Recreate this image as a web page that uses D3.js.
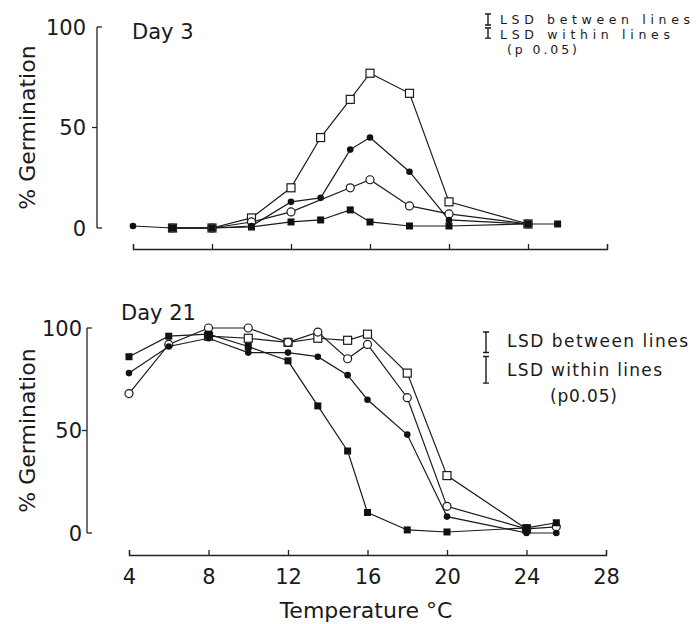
<!DOCTYPE html>
<html>
<head>
<meta charset="utf-8">
<script src="https://cdn.jsdelivr.net/npm/d3@7"></script>
<style>
  body { margin: 0; background: #fff; }
  svg text { font-family: "DejaVu Sans", sans-serif; fill: #1a1a1a; }
</style>
</head>
<body>
<svg width="696" height="624"></svg>
<script>
// temperatures (deg C) where germination was scored
var temps = [4, 6, 8, 10, 12, 13.5, 15, 16, 18, 20, 24, 25.5];
var xTicks = [4, 8, 12, 16, 20, 24, 28];
var yTicks = [0, 50, 100];

// Day 3 % germination, null = no point
var day3OpenSquare   = [null, 0, 0, 5, 20, 45, 64, 77, 67, 13, 2, null];
var day3FilledCircle = [1, 0, 0, 1, 13, 15, 39, 45, 28, 4, 2, null];
var day3OpenCircle   = [null, 0, 0, 3, 8, null, 20, 24, 11, 7, 2, null];
var day3FilledSquare = [null, 0, 0, 0.5, 3, 4, 9, 3, 1, 1, 2, 2];

// Day 21 % germination
var day21OpenSquare   = [null, null, 96, 95, 93, 95, 94, 97, 78, 28, 2, null];
var day21OpenCircle   = [68, 92, 100, 100, 93, 98, 85, 92, 66, 13, 2, 3];
var day21FilledCircle = [78, 91, 95, 88, 88, 86, 77, 65, 48, 8, 0, 0];
var day21FilledSquare = [86, 96, 97, 91, 84, 62, 40, 10, 1.5, 0.5, 2.5, 5];

// LSD bar sizes (% units): between lines, within lines
var lsdDay3 = [5.5, 5];
var lsdDay21 = [10, 13];

const svg = d3.select("svg");

const panels = [
  {
    title: "Day 3", titleX: 132, titleY: 39,
    x: d3.scaleLinear().domain([4, 28]).range([133, 607]),
    y: d3.scaleLinear().domain([0, 100]).range([228, 27]),
    yAxisX: 97, labelPad: 11, xAxisY: 249, tickLabels: false,
    series: [
      { vals: day3OpenSquare, mark: "osq" },
      { vals: day3OpenCircle, mark: "oc" },
      { vals: day3FilledCircle, mark: "fc" },
      { vals: day3FilledSquare, mark: "fsq" }
    ],
    lsd: lsdDay3, legendX: 488, barTop: 14, barGap: 3,
    legend: [
      { t: "LSD between lines", x: 500, y: 24, w: 190 },
      { t: "LSD within lines", x: 500, y: 39, w: 170 },
      { t: "(p 0.05)", x: 507, y: 54, w: 70 }
    ], legendSize: 12.5
  },
  {
    title: "Day 21", titleX: 121, titleY: 320,
    x: d3.scaleLinear().domain([4, 28]).range([129, 606]),
    y: d3.scaleLinear().domain([0, 100]).range([533, 328]),
    yAxisX: 87, labelPad: 5, xAxisY: 555, tickLabels: true,
    series: [
      { vals: day21OpenSquare, mark: "osq" },
      { vals: day21OpenCircle, mark: "oc" },
      { vals: day21FilledCircle, mark: "fc" },
      { vals: day21FilledSquare, mark: "fsq" }
    ],
    lsd: lsdDay21, legendX: 486, barTop: 332, barGap: 4,
    legend: [
      { t: "LSD between lines", x: 507, y: 347, w: 181 },
      { t: "LSD within lines", x: 507, y: 376, w: 155 },
      { t: "(p0.05)", x: 550, y: 402, w: 67 }
    ], legendSize: 17
  }
];

panels.forEach(p => {
  const g = svg.append("g");
  const x = p.x, y = p.y;

  // y axis line + ticks (0 and 100 point right, 50 points left)
  g.append("line")
    .attr("x1", p.yAxisX).attr("x2", p.yAxisX)
    .attr("y1", y(100)).attr("y2", y(0))
    .attr("stroke", "#222").attr("stroke-width", 1.3);
  g.selectAll(".ytick").data(yTicks).join("line")
    .attr("x1", p.yAxisX)
    .attr("x2", d => d === 50 ? p.yAxisX - 5 : p.yAxisX + 5)
    .attr("y1", d => y(d)).attr("y2", d => y(d))
    .attr("stroke", "#222").attr("stroke-width", 1.3);
  g.selectAll(".ylab").data(yTicks).join("text")
    .attr("x", p.yAxisX - p.labelPad)
    .attr("y", d => y(d))
    .attr("dy", "0.36em")
    .attr("text-anchor", "end")
    .attr("font-size", 21)
    .text(d => d);

  // x axis with upward ticks
  const xAxis = d3.axisBottom(x).tickValues(xTicks)
    .tickSizeInner(-5).tickSizeOuter(-5).tickPadding(14)
    .tickFormat(p.tickLabels ? d3.format("d") : "");
  const ax = g.append("g")
    .attr("transform", `translate(0,${p.xAxisY})`)
    .call(xAxis);
  ax.selectAll("path, line").attr("stroke", "#222").attr("stroke-width", 1.3);
  ax.selectAll("text").attr("font-size", 21).attr("fill", "#1a1a1a")
    .attr("font-family", "DejaVu Sans, sans-serif");

  // y label
  g.append("text")
    .attr("transform", `translate(35,${(y(0) + y(100)) / 2}) rotate(-90)`)
    .attr("text-anchor", "middle")
    .attr("font-size", 22)
    .text("% Germination");

  // title
  g.append("text")
    .attr("x", p.titleX).attr("y", p.titleY)
    .attr("font-size", 21)
    .text(p.title);

  // lines
  const line = d3.line().x(d => x(d.t)).y(d => y(d.v));
  p.series.forEach(s => {
    const pts = temps.map((t, i) => ({ t: t, v: s.vals[i] })).filter(d => d.v != null);
    s.pts = pts;
    g.append("path").datum(pts)
      .attr("d", line)
      .attr("fill", "none")
      .attr("stroke", "#1a1a1a")
      .attr("stroke-width", 1.2);
  });

  // markers
  p.series.forEach(s => {
    const m = g.selectAll(null).data(s.pts);
    if (s.mark === "osq") {
      m.join("rect")
        .attr("x", d => x(d.t) - 4).attr("y", d => y(d.v) - 4)
        .attr("width", 8).attr("height", 8)
        .attr("fill", "#fff").attr("stroke", "#1a1a1a").attr("stroke-width", 1.2);
    } else if (s.mark === "oc") {
      m.join("circle")
        .attr("cx", d => x(d.t)).attr("cy", d => y(d.v)).attr("r", 4)
        .attr("fill", "#fff").attr("stroke", "#1a1a1a").attr("stroke-width", 1.2);
    } else if (s.mark === "fc") {
      m.join("circle")
        .attr("cx", d => x(d.t)).attr("cy", d => y(d.v)).attr("r", 3.3)
        .attr("fill", "#111");
    } else {
      m.join("rect")
        .attr("x", d => x(d.t) - 3.5).attr("y", d => y(d.v) - 3.5)
        .attr("width", 7).attr("height", 7)
        .attr("fill", "#111");
    }
  });

  // LSD bars
  let top = p.barTop;
  p.lsd.forEach(v => {
    const h = y(0) - y(v);
    const bx = p.legendX;
    const path = d3.path();
    path.moveTo(bx - 3, top); path.lineTo(bx + 3, top);
    path.moveTo(bx, top); path.lineTo(bx, top + h);
    path.moveTo(bx - 3, top + h); path.lineTo(bx + 3, top + h);
    g.append("path").attr("d", path.toString())
      .attr("stroke", "#1a1a1a").attr("stroke-width", 1.4).attr("fill", "none");
    top += h + p.barGap;
  });

  // legend text
  g.selectAll(null).data(p.legend).join("text")
    .attr("x", d => d.x).attr("y", d => d.y)
    .attr("font-size", p.legendSize)
    .attr("textLength", d => d.w)
    .attr("lengthAdjust", "spacing")
    .text(d => d.t);
});

// x axis title
svg.append("text")
  .attr("x", 366).attr("y", 618)
  .attr("text-anchor", "middle")
  .attr("font-size", 22)
  .text("Temperature °C");
</script>
</body>
</html>
